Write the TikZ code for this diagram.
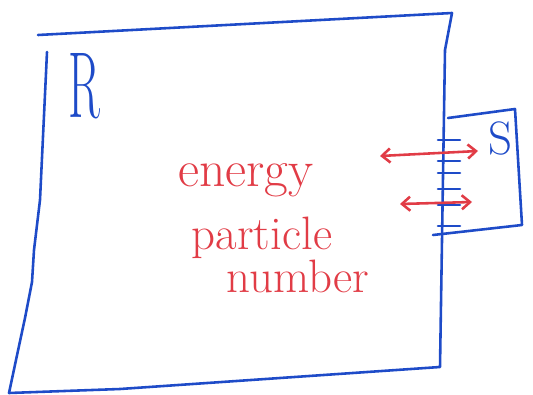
\documentclass[tikz,border=0pt]{standalone}
\usetikzlibrary{arrows.meta}
\definecolor{penblue}{RGB}{30,75,200}
\definecolor{penred}{RGB}{225,60,70}

\begin{document}
\begin{tikzpicture}[x=0.03cm, y=-0.03cm, line width=2.2pt, line join=round, line cap=round]
  \useasboundingbox (0,0) rectangle (533,395);

  % reservoir R
  \coordinate (A) at (38,35);
  \coordinate (B) at (452,13);
  \coordinate (C) at (440,367);
  \coordinate (D) at (9,393);
  \coordinate (E) at (47,52);
  \draw[penblue] (A)--(B)--(445,50)--(C)--(120,389)--(D)
    --(16,360)--(25,318)--(32,282)--(34,250)--(40,200)--(E);

  % system S, left side is the wall of R
  \coordinate (F) at (448,118);
  \coordinate (G) at (515,109);
  \coordinate (H) at (522,225);
  \coordinate (K) at (433,235);
  \draw[penblue] (F)--(G)--(H)--(K);

  % permeable wall
  \foreach \y in {140,161,173,189,205,226}
    \draw[penblue] (438,\y) -- (460,\y);

  \node[penblue, font=\fontsize{80}{80}\selectfont, xscale=0.5, inner sep=0] (r) at (84,86) {R};
  \node[penblue, font=\fontsize{40}{40}\selectfont, inner sep=0] (s) at (500,138) {S};

  % exchange across the wall
  \coordinate (P1) at (380,156);
  \coordinate (Q1) at (478,151);
  \coordinate (P2) at (400,204);
  \coordinate (Q2) at (472,202);
  \draw[penred, {Straight Barb[length=7pt,width=12pt]}-{Straight Barb[length=7pt,width=12pt]}] (P1)--(Q1);
  \draw[penred, {Straight Barb[length=7pt,width=12pt]}-{Straight Barb[length=7pt,width=12pt]}] (P2)--(Q2);

  \node[penred, font=\fontsize{44}{44}\selectfont, inner sep=0] (en) at (246,180) {energy};
  \node[penred, font=\fontsize{40}{40}\selectfont, inner sep=0] (pa) at (262,238) {particle};
  \node[penred, font=\fontsize{40}{40}\selectfont, inner sep=0] (nu) at (298,276) {number};
\end{tikzpicture}
\end{document}
